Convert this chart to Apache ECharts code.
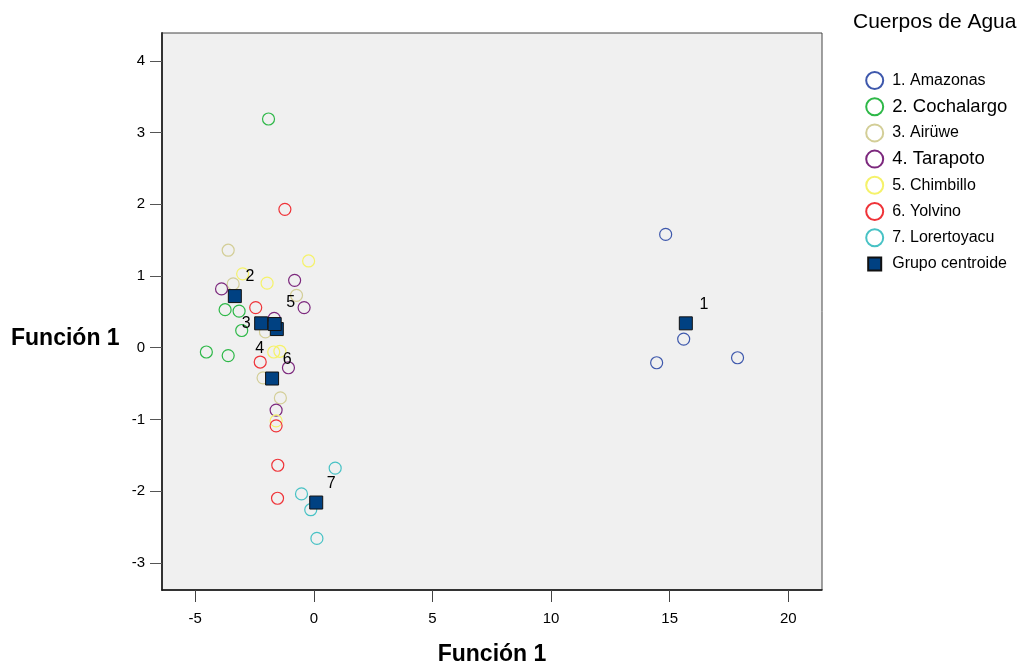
<!DOCTYPE html>
<html>
<head>
<meta charset="utf-8">
<script src="https://cdn.jsdelivr.net/npm/echarts@6/dist/echarts.min.js"></script>
<style>html,body{margin:0;padding:0;background:#fff;}#c{width:1022px;height:665px;}</style>
</head>
<body>
<div id="c"></div>
<script>
// ---- data ----
var groupNames = ['1. Amazonas','2. Cochalargo','3. Airüwe','4. Tarapoto','5. Chimbillo','6. Yolvino','7. Lorertoyacu'];
var centroidName = 'Grupo centroide';
var amazonas = [[14.83,1.58],[15.59,0.12],[14.45,-0.21],[17.86,-0.14]];
var cochalargo = [[-1.91,3.19],[-3.74,0.53],[-3.15,0.51],[-3.04,0.24],[-4.53,-0.06],[-3.61,-0.11]];
var airuwe = [[-3.61,1.36],[-3.40,0.89],[-0.73,0.73],[-2.04,0.22],[-2.14,-0.42],[-1.41,-0.70]];
var tarapoto = [[-0.81,0.94],[-3.89,0.82],[-0.41,0.56],[-1.67,0.41],[-1.07,-0.28],[-1.59,-0.87]];
var chimbillo = [[-0.22,1.21],[-3.00,1.03],[-1.97,0.90],[-1.69,-0.06],[-1.43,-0.05],[-1.59,-1.02]];
var yolvino = [[-1.22,1.93],[-2.45,0.56],[-2.26,-0.20],[-1.59,-1.09],[-1.52,-1.64],[-1.53,-2.10]];
var lorertoyacu = [[0.90,-1.68],[-0.52,-2.04],[-0.13,-2.26],[0.13,-2.66]];
var centroids = [[15.68,0.34],[-3.33,0.72],[-2.22,0.34],[-1.56,0.26],[-1.65,0.33],[-1.76,-0.43],[0.10,-2.16]];
var centroidLabels = ['1','2','3','4','5','6','7'];
var xTicks = [-5,0,5,10,15,20];
var yTicks = [-3,-2,-1,0,1,2,3,4];
var axisTitle = 'Función 1';
var legendTitle = 'Cuerpos de Agua';

// ---- styling ----
var colors = ['#3E58AC','#2EB848','#D3CE97','#7C287D','#F5F26A','#EF3338','#48C2C5'];
var groupData = [amazonas,cochalargo,airuwe,tarapoto,chimbillo,yolvino,lorertoyacu];
var labelOffsets = [[18,-19],[15,-19],[-15,0],[-17,20],[16,-21],[15,-19],[15,-19]];
var FONT = '"Liberation Sans", Arial, sans-serif';

var series = groupData.map(function(d,i){
  return {
    name: groupNames[i], type: 'scatter', data: d, symbol: 'circle', symbolSize: 12,
    itemStyle: {color: 'rgba(0,0,0,0)', borderColor: colors[i], borderWidth: 1.2, opacity: 1},
    emphasis: {disabled: true}
  };
});
series.push({
  name: centroidName, type: 'scatter', symbol: 'rect', symbolSize: 13, z: 5,
  itemStyle: {color: '#004182', borderColor: '#111', borderWidth: 1, opacity: 1},
  data: centroids.map(function(p,i){
    return {value: p, label: {show: true, formatter: centroidLabels[i], position: 'inside', offset: labelOffsets[i]}};
  }),
  label: {color: '#000', fontSize: 16, fontFamily: FONT},
  emphasis: {disabled: true}
});

var legendData = groupNames.map(function(n,i){
  var it = {name: n};
  if (i === 1 || i === 3) it.textStyle = {fontSize: 18.5};
  return it;
});
legendData.push({name: centroidName, icon: 'path://M0,0M17,17M2,2L15,2L15,15L2,15Z'});

var chart = echarts.init(document.getElementById('c'), null, {renderer: 'canvas'});
chart.setOption({
  animation: false,
  textStyle: {fontFamily: FONT},
  title: [
    {text: legendTitle, left: 853, top: 12, padding: 0,
      textStyle: {fontSize: 21, fontWeight: 'normal', color: '#000', fontFamily: FONT}},
    {text: axisTitle, left: 11, top: 327, padding: 0,
      textStyle: {fontSize: 23, fontWeight: 'bold', color: '#000', fontFamily: FONT}}
  ],
  legend: {
    orient: 'vertical', left: 865.2, top: 71, padding: 0, itemWidth: 25, itemHeight: 17, itemGap: 7.2,
    data: legendData, selectedMode: false,
    textStyle: {fontSize: 16, color: '#000', lineHeight: 17, fontFamily: FONT}
  },
  grid: {left: 162, right: 200, top: 33, bottom: 75, show: true, backgroundColor: '#F0F0F0',
    borderColor: '#444', borderWidth: 1, outerBoundsMode: 'none', containLabel: false},
  xAxis: {
    type: 'value', min: -6.40, max: 21.42,
    name: axisTitle, nameLocation: 'middle', nameGap: 53,
    nameTextStyle: {fontSize: 23, fontWeight: 'bold', color: '#000', fontFamily: FONT},
    axisLine: {show: true, onZero: false, lineStyle: {color: '#111', width: 1.5}},
    axisTick: {show: true, length: 12, customValues: xTicks, lineStyle: {color: '#444'}},
    axisLabel: {customValues: xTicks, margin: 21, fontSize: 15, color: '#000', fontFamily: FONT},
    splitLine: {show: false}
  },
  yAxis: {
    type: 'value', min: -3.38, max: 4.39,
    axisLine: {show: true, onZero: false, lineStyle: {color: '#333', width: 2}},
    axisTick: {show: true, length: 12, customValues: yTicks, lineStyle: {color: '#555'}},
    axisLabel: {customValues: yTicks, margin: 17, fontSize: 15, color: '#000', fontFamily: FONT},
    splitLine: {show: false}
  },
  series: series
});
</script>
</body>
</html>
